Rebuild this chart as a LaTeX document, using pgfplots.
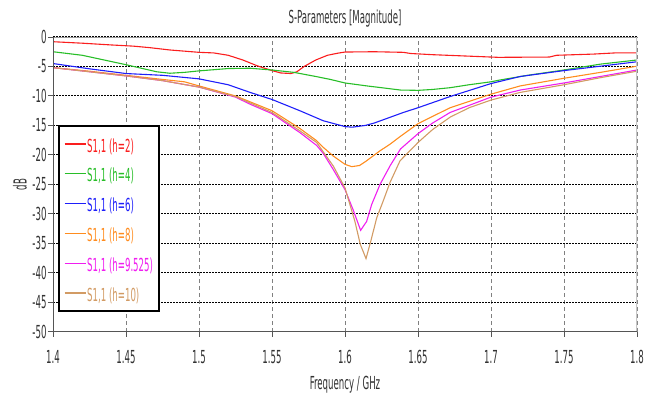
\documentclass[border=0pt]{standalone}
\usepackage{fontspec}
\setmainfont{DejaVu Sans}[FakeStretch=0.48]
\usepackage{pgfplots}
\pgfplotsset{compat=1.18}
\definecolor{cred}{RGB}{250,30,30}
\definecolor{cgreen}{RGB}{40,190,40}
\definecolor{cblue}{RGB}{30,30,250}
\definecolor{corange}{RGB}{255,140,30}
\definecolor{cmag}{RGB}{240,30,240}
\definecolor{cbrown}{RGB}{210,155,100}
\definecolor{txt}{RGB}{50,50,50}
\definecolor{frame}{RGB}{85,85,85}
\newcommand\cf{\fontsize{18}{21}\selectfont}
\begin{document}
\begin{tikzpicture}
\useasboundingbox (0,0) rectangle (657bp,397bp);
\begin{axis}[
  at={(53bp,65.3bp)}, anchor=south west,
  scale only axis, width=584bp, height=294.7bp,
  xmin=1.4, xmax=1.8, ymin=-50, ymax=0,
  xtick={1.4,1.45,1.5,1.55,1.6,1.65,1.7,1.75,1.8},
  xticklabels={1.4,1.45,1.5,1.55,1.6,1.65,1.7,1.75,1.8},
  ytick={-50,-45,-40,-35,-30,-25,-20,-15,-10,-5,0},
  yticklabels={-50,-45,-40,-35,-30,-25,-20,-15,-10,-5,0},
  axis line style={draw=none},
  tick align=outside, xtick pos=left, ytick pos=left,
  major tick length=5bp,
  tick style={draw=frame, line width=1bp},
  xticklabel style={font=\cf, text=txt, anchor=north, yshift=-10bp},
  yticklabel style={font=\cf, text=txt, anchor=east, xshift=2bp},
  xmajorgrids, ymajorgrids,
  x grid style={draw=gray, dash pattern=on 4bp off 3bp, line width=0.9bp},
  y grid style={draw=black, dash pattern=on 1.5bp off 1.5bp, line width=1.1bp},
  title={S-Parameters [Magnitude]},
  title style={font=\cf, text=txt, at={(axis description cs:0.5,1)}, anchor=center, yshift=12bp},
  xlabel={Frequency / GHz},
  xlabel style={font=\cf, text=txt, at={(axis description cs:0.5,0)}, anchor=center, yshift=-53bp},
  ylabel={dB},
  ylabel style={font=\cf, text=txt, at={(axis description cs:-0.0565,0.5)}, anchor=center},
  legend cell align=left,
  legend image code/.code={\draw[#1, draw=., line width=1.2bp] (0bp,0bp) -- (21bp,0bp);},
  legend style={at={(0.0086,0.701)}, anchor=north west, draw=black, line width=1.8bp, fill=white,
    font=\cf, inner xsep=5bp, inner ysep=5bp, row sep=3.8bp,
    nodes={inner sep=1bp, text height=20bp, text depth=4bp},
    /tikz/every even column/.append style={column sep=5bp}},
  every axis plot/.append style={line width=1.1bp},
]
\addplot[cred] coordinates {
(1.40,-0.8)(1.42,-1.05)(1.44,-1.35)(1.455,-1.55)(1.466,-1.8)(1.48,-2.2)(1.50,-2.6)(1.51,-2.7)
(1.52,-3.1)(1.53,-3.9)(1.54,-4.9)(1.55,-5.7)(1.556,-6.1)(1.563,-6.2)(1.567,-5.9)(1.572,-5.0)
(1.58,-3.9)(1.588,-3.1)(1.595,-2.75)(1.60,-2.55)(1.62,-2.5)(1.64,-2.6)(1.645,-2.8)(1.66,-3.0)
(1.68,-3.2)(1.705,-3.45)(1.74,-3.4)(1.745,-3.1)(1.77,-2.9)(1.785,-2.7)(1.80,-2.7)};
\addlegendentry{\textcolor{cred}{S1,1 (h=2)}}
\addplot[cgreen] coordinates {
(1.40,-2.5)(1.42,-3.1)(1.45,-4.7)(1.471,-5.9)(1.48,-6.15)(1.49,-6.0)(1.50,-5.75)(1.52,-5.35)
(1.535,-5.3)(1.55,-5.6)(1.565,-6.0)(1.58,-6.7)(1.59,-7.2)(1.60,-7.8)(1.615,-8.3)(1.625,-8.6)
(1.638,-9.0)(1.65,-9.05)(1.66,-8.9)(1.672,-8.6)(1.685,-8.1)(1.70,-7.6)(1.706,-7.3)(1.725,-6.5)
(1.75,-5.6)(1.775,-4.6)(1.80,-3.9)};
\addlegendentry{\textcolor{cgreen}{S1,1 (h=4)}}
\addplot[cblue] coordinates {
(1.40,-4.5)(1.425,-5.4)(1.45,-6.2)(1.475,-6.5)(1.50,-7.1)(1.52,-8.1)(1.535,-9.4)(1.55,-10.6)
(1.569,-12.5)(1.585,-14.2)(1.60,-15.2)(1.605,-15.3)(1.614,-15.0)(1.62,-14.6)(1.63,-13.7)
(1.64,-12.8)(1.65,-12.0)(1.672,-10.1)(1.70,-7.9)(1.72,-6.7)(1.75,-5.7)(1.775,-4.95)(1.80,-4.2)};
\addlegendentry{\textcolor{cblue}{S1,1 (h=6)}}
\addplot[corange] coordinates {
(1.40,-5.2)(1.425,-5.8)(1.45,-6.5)(1.475,-7.2)(1.49,-7.6)(1.50,-8.3)(1.525,-10.0)(1.535,-11.0)
(1.55,-12.5)(1.569,-15.5)(1.5806,-17.6)(1.585,-18.7)(1.592,-20.2)(1.60,-21.6)(1.6046,-22.0)
(1.61,-21.8)(1.6148,-21.0)(1.624,-19.3)(1.6308,-18.2)(1.6377,-16.9)(1.65,-14.7)(1.672,-12.0)
(1.70,-9.7)(1.72,-8.3)(1.75,-7.0)(1.775,-6.0)(1.80,-4.95)};
\addlegendentry{\textcolor{corange}{S1,1 (h=8)}}
\addplot[cmag] coordinates {
(1.40,-5.2)(1.425,-5.9)(1.45,-6.6)(1.475,-7.4)(1.50,-8.5)(1.525,-10.2)(1.535,-11.4)(1.55,-13.0)
(1.569,-16.2)(1.5806,-18.4)(1.585,-19.7)(1.592,-22.5)(1.60,-25.9)(1.6057,-29.4)(1.6107,-32.8)
(1.6148,-31.3)(1.6183,-28.4)(1.624,-25.0)(1.631,-21.8)(1.638,-19.0)(1.65,-16.4)(1.66,-14.6)
(1.672,-12.8)(1.685,-11.6)(1.70,-10.2)(1.72,-9.0)(1.75,-7.8)(1.775,-6.7)(1.80,-5.6)};
\addlegendentry{\textcolor{cmag}{S1,1 (h=9.525)}}
\addplot[cbrown] coordinates {
(1.40,-5.2)(1.425,-5.9)(1.45,-6.6)(1.475,-7.4)(1.50,-8.5)(1.525,-10.1)(1.55,-12.8)(1.569,-15.9)
(1.5806,-17.9)(1.592,-21.9)(1.60,-25.6)(1.6068,-31.3)(1.6105,-35.2)(1.6144,-37.6)(1.6176,-34.7)
(1.6217,-30.7)(1.6262,-27.8)(1.6308,-24.7)(1.6377,-21.0)(1.65,-17.9)(1.66,-15.7)(1.672,-13.6)
(1.685,-12.0)(1.70,-10.7)(1.72,-9.4)(1.75,-8.1)(1.775,-6.9)(1.80,-5.8)};
\addlegendentry{\textcolor{cbrown}{S1,1 (h=10)}}
\draw[draw=gray!80, line width=1bp] (rel axis cs:0,1) -- (rel axis cs:1,1);
\draw[draw=gray!45, line width=2.5bp] (rel axis cs:1,1) -- (rel axis cs:1,0);
\draw[draw=frame, line width=1.6bp] (rel axis cs:0,1) -- (rel axis cs:0,0) -- (rel axis cs:1,0);
\end{axis}
\end{tikzpicture}
\end{document}
